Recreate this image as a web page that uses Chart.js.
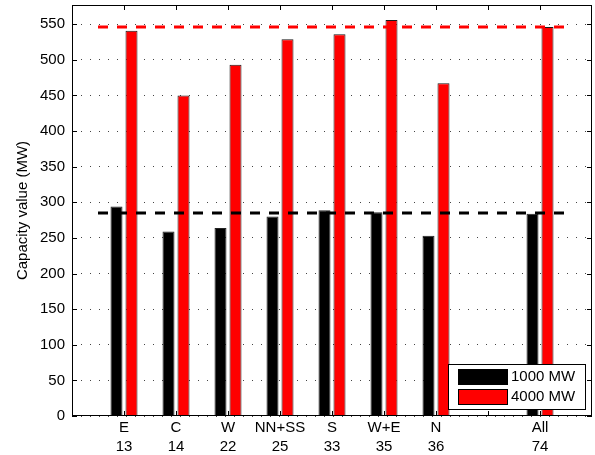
<!DOCTYPE html>
<html>
<head>
<meta charset="utf-8">
<script src="https://cdn.jsdelivr.net/npm/chart.js@4.4.1/dist/chart.umd.min.js"></script>
<style>
  html, body { margin: 0; padding: 0; background: #fff; }
  #wrap { width: 595px; height: 455px; }
</style>
</head>
<body>
<div id="wrap"><canvas id="chart" width="595" height="455"></canvas></div>
<script>
// regions and how many sites each one has
const regions = ['E', 'C', 'W', 'NN+SS', 'S', 'W+E', 'N', 'All'];
const siteCounts = [13, 14, 22, 25, 33, 35, 36, 74];
const barSlots = [1, 2, 3, 4, 5, 6, 7, 9];   // slot 8 left empty
const xTickSlots = [1, 2, 3, 4, 5, 6, 7, 8, 9];

// capacity value (MW)
const cap1000 = [294, 259, 264, 280, 289, 286, 253, 284];
const cap4000 = [541, 450, 493, 529, 536, 556, 467, 546];

// reference levels (dashed)
const refLevel1000 = 285;
const refLevel4000 = 546;
const refSpan = [0.5, 9.5];

const yTicks = [0, 50, 100, 150, 200, 250, 300, 350, 400, 450, 500, 550];

const FONT = '"Liberation Sans", Arial, Helvetica, sans-serif';

const points = (vals) => vals.map((v, i) => ({ x: barSlots[i], y: v }));
const refLine = (lvl) => refSpan.map(x => ({ x: x, y: lvl }));

// box, inward tick marks and the legend box, matlab style
const matlabFrame = {
    id: 'matlabFrame',
    afterDatasetsDraw(chart) {
        const { ctx, chartArea: a, scales } = chart;
        const tl = 5;
        ctx.save();
        ctx.strokeStyle = '#000';
        ctx.lineWidth = 1;
        ctx.beginPath();
        scales.x.ticks.forEach(t => {
            const px = Math.round(scales.x.getPixelForValue(t.value)) + 0.5;
            ctx.moveTo(px, a.top); ctx.lineTo(px, a.top + tl);
            ctx.moveTo(px, a.bottom); ctx.lineTo(px, a.bottom - tl);
        });
        scales.y.ticks.forEach(t => {
            const py = Math.round(scales.y.getPixelForValue(t.value)) + 0.5;
            ctx.moveTo(a.left, py); ctx.lineTo(a.left + tl, py);
            ctx.moveTo(a.right, py); ctx.lineTo(a.right - tl, py);
        });
        ctx.stroke();
        ctx.strokeRect(Math.round(a.left) + 0.5, Math.round(a.top) + 0.5,
            Math.round(a.right - a.left) - 1, Math.round(a.bottom - a.top) - 1);

        // legend
        const items = chart.data.datasets.filter(d => d.type !== 'line');
        const w = 137, h = 45;
        const lx = Math.round(a.right - 7 - w), ly = Math.round(a.bottom - 7 - h);
        ctx.fillStyle = '#fff';
        ctx.fillRect(lx, ly, w, h);
        ctx.strokeRect(lx + 0.5, ly + 0.5, w, h);
        ctx.font = '15px ' + FONT;
        ctx.textBaseline = 'middle';
        items.forEach((d, i) => {
            const sy = ly + 5 + i * 20;
            ctx.fillStyle = d.backgroundColor;
            ctx.fillRect(lx + 10, sy, 49, 15);
            ctx.strokeRect(lx + 10.5, sy + 0.5, 49, 15);
            ctx.fillStyle = '#000';
            ctx.fillText(d.label, lx + 63, sy + 8);
        });
        ctx.restore();
    }
};

new Chart(document.getElementById('chart'), {
    type: 'bar',
    data: {
        datasets: [
            {
                type: 'line', label: 'ref 4000', data: refLine(refLevel4000),
                borderColor: '#ff0000', borderWidth: 3, borderDash: [10, 9],
                pointRadius: 0, order: 0
            },
            {
                type: 'line', label: 'ref 1000', data: refLine(refLevel1000),
                borderColor: '#000', borderWidth: 3, borderDash: [10, 9],
                pointRadius: 0, order: 0
            },
            {
                label: '1000 MW', data: points(cap1000),
                backgroundColor: '#000', borderColor: '#222', borderWidth: 1, order: 1
            },
            {
                label: '4000 MW', data: points(cap4000),
                backgroundColor: '#ff0000', borderColor: '#1a1a1a', borderWidth: 1, order: 1
            }
        ]
    },
    options: {
        responsive: false,
        animation: false,
        events: [],
        categoryPercentage: 0.577,
        barPercentage: 0.8,
        layout: { padding: { top: 5, right: 3, left: 0, bottom: 0 } },
        plugins: { legend: { display: false }, tooltip: { enabled: false } },
        scales: {
            x: {
                type: 'linear',
                min: 0, max: 10,
                offset: false,
                afterBuildTicks: (s) => { s.ticks = xTickSlots.map(v => ({ value: v })); },
                afterFit: (s) => {
                    s.height = 39;
                    s.paddingLeft = 0; s.paddingRight = 0; s.paddingTop = 0; s.paddingBottom = 0;
                },
                grid: { display: false, drawTicks: false },
                border: { display: false },
                ticks: {
                    color: '#000',
                    padding: 2,
                    autoSkip: false,
                    maxRotation: 0,
                    font: { family: FONT, size: 15, lineHeight: 1.3 },
                    callback: (v) => {
                        const i = barSlots.indexOf(v);
                        return i < 0 ? '' : [regions[i], String(siteCounts[i])];
                    }
                }
            },
            y: {
                min: 0, max: 577,
                afterBuildTicks: (s) => { s.ticks = yTicks.map(v => ({ value: v })); },
                afterFit: (s) => {
                    s.width = 72;
                    s.paddingLeft = 0; s.paddingRight = 0; s.paddingTop = 0; s.paddingBottom = 0;
                },
                grid: { color: '#444', lineWidth: 1, drawTicks: false },
                border: { display: false, dash: [1, 8] },
                ticks: {
                    color: '#000',
                    padding: 7,
                    font: { family: FONT, size: 15 }
                },
                title: {
                    display: true,
                    text: 'Capacity value (MW)',
                    color: '#000',
                    padding: { top: 14, bottom: 0 },
                    font: { family: FONT, size: 15, lineHeight: 1.2 }
                }
            }
        }
    },
    plugins: [matlabFrame]
});
</script>
</body>
</html>
